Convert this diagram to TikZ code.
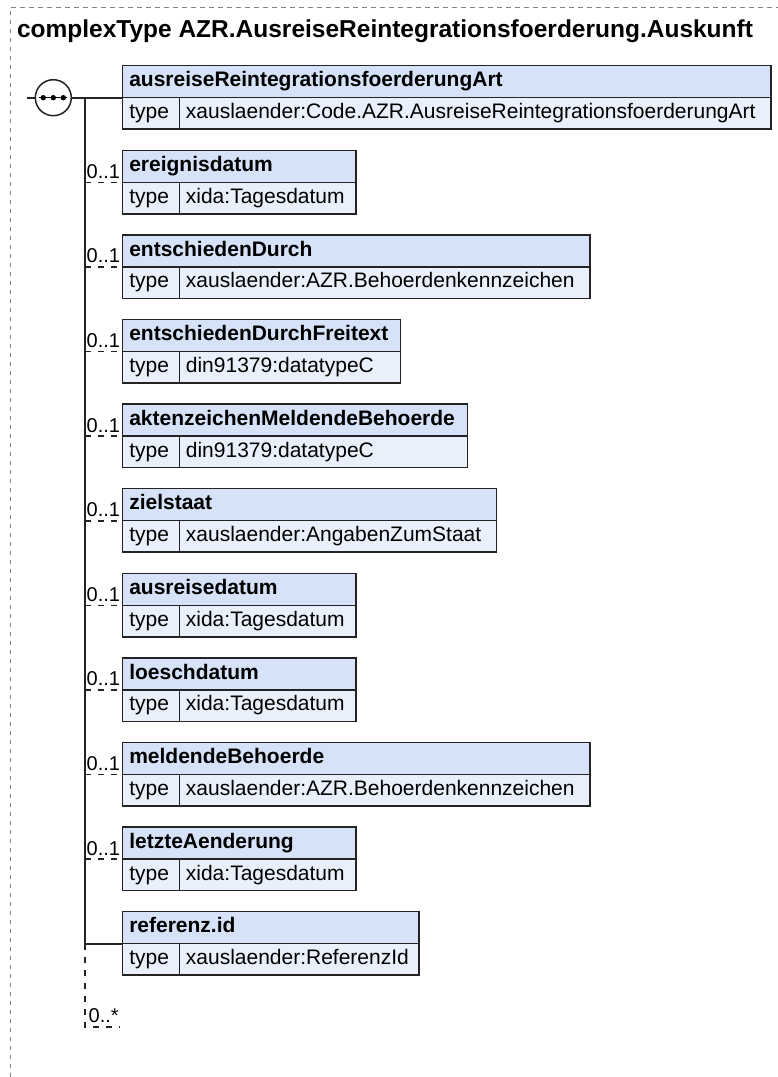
\documentclass[tikz,border=0pt]{standalone}
\usepackage{fontspec}
\setmainfont{Liberation Sans}
\usetikzlibrary{positioning}
\definecolor{headblue}{RGB}{214,226,247}
\definecolor{typeblue}{RGB}{234,240,251}
\definecolor{edge}{RGB}{35,35,35}

\begin{document}
\begin{tikzpicture}[x=1pt, y=-1pt,
  every node/.style={inner sep=0pt, outer sep=0pt},
  cell/.style={draw=edge, line width=1.5pt, anchor=north west, text height=15pt, text depth=4.5pt,
    inner xsep=6.6pt, font=\fontsize{21}{25}\selectfont},
  head/.style={cell, fill=headblue, minimum height=32pt, text width={#1pt-13.2pt},
    font=\fontsize{21}{25}\selectfont\bfseries},
  typekey/.style={cell, fill=typeblue, minimum height=31.5pt, text width=43.4pt},
  typeval/.style={cell, fill=typeblue, minimum height=31.5pt, text width={#1pt-70pt}},
  conn/.style={draw=edge, line width=1.6pt},
  optconn/.style={conn, dash pattern=on 6pt off 7pt},
  mult/.style={anchor=base west, font=\fontsize{20}{24}\selectfont},
]
\useasboundingbox (0,0) rectangle (778,1077);
\draw[gray, line width=1pt, dash pattern=on 4.5pt off 4.5pt] (10,1077) -- (10,7) -- (778,7);
\node[anchor=base west, font=\fontsize{24.5}{29}\selectfont\bfseries] (title) at (17,37)
  {complexType AZR.AusreiseReintegrationsfoerderung.Auskunft};

% sequence
\node[circle, draw=edge, line width=1.5pt, fill=white, minimum size=36pt] (seq) at (53.3,97.7) {};
\draw[line width=1.2pt] ([xshift=-14pt]seq.center) -- ([xshift=14pt]seq.center);
\fill ([xshift=-10pt]seq.center) circle (2.7pt);
\fill (seq.center) circle (2.7pt);
\fill ([xshift=10pt]seq.center) circle (2.7pt);
\coordinate (in) at (26.7,97.7);
\coordinate (bar) at (85,97.7);
\coordinate (barend) at (85,1026.7);
\coordinate (anyend) at (120,1026.7);

% elements
\node[head=648.3] (art) at (122.7,65.7) {ausreiseReintegrationsfoerderungArt};
\node[typekey, below right=0pt of art.south west] (artK) {type};
\node[typeval=648.3, right=0pt of artK] (artV) {xauslaender:Code.AZR.AusreiseReintegrationsfoerderungArt};

\node[head=233.3] (ereignis) at (122.7,150.3) {ereignisdatum};
\node[typekey, below right=0pt of ereignis.south west] (ereignisK) {type};
\node[typeval=233.3, right=0pt of ereignisK] (ereignisV) {xida:Tagesdatum};

\node[head=467.3] (entsch) at (122.7,234.9) {entschiedenDurch};
\node[typekey, below right=0pt of entsch.south west] (entschK) {type};
\node[typeval=467.3, right=0pt of entschK] (entschV) {xauslaender:AZR.Behoerdenkennzeichen};

\node[head=278] (freitext) at (122.7,319.5) {entschiedenDurchFreitext};
\node[typekey, below right=0pt of freitext.south west] (freitextK) {type};
\node[typeval=278, right=0pt of freitextK] (freitextV) {din91379:datatypeC};

\node[head=345] (akten) at (122.7,404.1) {aktenzeichenMeldendeBehoerde};
\node[typekey, below right=0pt of akten.south west] (aktenK) {type};
\node[typeval=345, right=0pt of aktenK] (aktenV) {din91379:datatypeC};

\node[head=374] (ziel) at (122.7,488.7) {zielstaat};
\node[typekey, below right=0pt of ziel.south west] (zielK) {type};
\node[typeval=374, right=0pt of zielK] (zielV) {xauslaender:AngabenZumStaat};

\node[head=233.3] (ausreise) at (122.7,573.3) {ausreisedatum};
\node[typekey, below right=0pt of ausreise.south west] (ausreiseK) {type};
\node[typeval=233.3, right=0pt of ausreiseK] (ausreiseV) {xida:Tagesdatum};

\node[head=233.3] (loesch) at (122.7,657.9) {loeschdatum};
\node[typekey, below right=0pt of loesch.south west] (loeschK) {type};
\node[typeval=233.3, right=0pt of loeschK] (loeschV) {xida:Tagesdatum};

\node[head=467.3] (meldend) at (122.7,742.5) {meldendeBehoerde};
\node[typekey, below right=0pt of meldend.south west] (meldendK) {type};
\node[typeval=467.3, right=0pt of meldendK] (meldendV) {xauslaender:AZR.Behoerdenkennzeichen};

\node[head=233.3] (letzte) at (122.7,827.1) {letzteAenderung};
\node[typekey, below right=0pt of letzte.south west] (letzteK) {type};
\node[typeval=233.3, right=0pt of letzteK] (letzteV) {xida:Tagesdatum};

\node[head=296.3] (refid) at (122.7,911.7) {referenz.id};
\node[typekey, below right=0pt of refid.south west] (refidK) {type};
\node[typeval=296.3, right=0pt of refidK] (refidV) {xauslaender:ReferenzId};

% multiplicities
\node[mult] (ereignisM) at (86.7,178.3) {0..1};
\node[mult] (entschM) at (86.7,262.9) {0..1};
\node[mult] (freitextM) at (86.7,347.5) {0..1};
\node[mult] (aktenM) at (86.7,432.1) {0..1};
\node[mult] (zielM) at (86.7,516.7) {0..1};
\node[mult] (ausreiseM) at (86.7,601.3) {0..1};
\node[mult] (loeschM) at (86.7,685.9) {0..1};
\node[mult] (meldendM) at (86.7,770.5) {0..1};
\node[mult] (letzteM) at (86.7,855.1) {0..1};
\node[mult] (anyM) at (88.7,1022.7) {0..*};

% connectors
\draw[conn] (in) -- (seq.west);
\draw[conn] (seq.east) -- (art.south west);
\draw[conn] (bar) |- (refid.south west);
\draw[optconn] (bar |- ereignis.south west) -- (ereignis.south west);
\draw[optconn] (bar |- entsch.south west) -- (entsch.south west);
\draw[optconn] (bar |- freitext.south west) -- (freitext.south west);
\draw[optconn] (bar |- akten.south west) -- (akten.south west);
\draw[optconn] (bar |- ziel.south west) -- (ziel.south west);
\draw[optconn] (bar |- ausreise.south west) -- (ausreise.south west);
\draw[optconn] (bar |- loesch.south west) -- (loesch.south west);
\draw[optconn] (bar |- meldend.south west) -- (meldend.south west);
\draw[optconn] (bar |- letzte.south west) -- (letzte.south west);
\draw[optconn] (bar |- refid.south west) -- (barend) -- (anyend);
\end{tikzpicture}
\end{document}
